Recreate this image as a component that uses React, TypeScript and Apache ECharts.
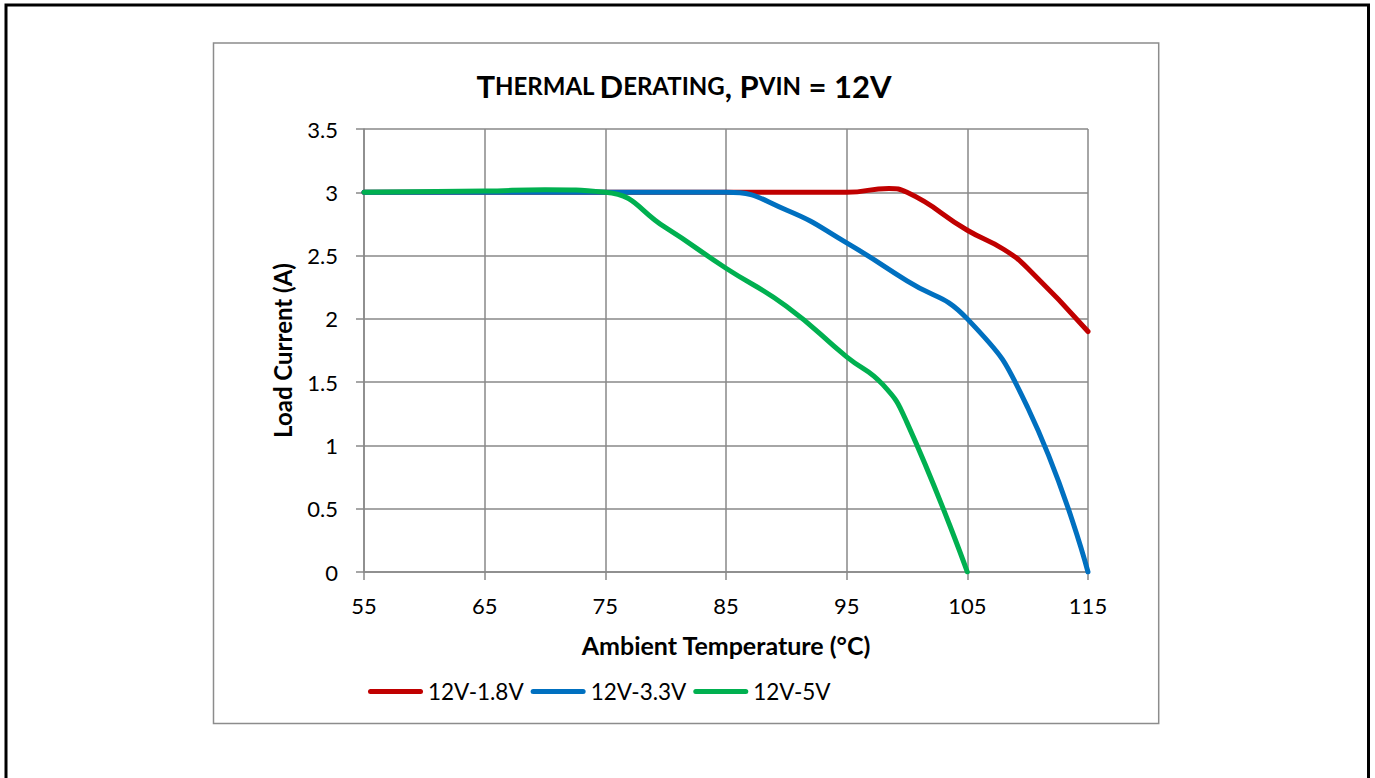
import React, { useEffect, useRef } from "react";
import * as echarts from "echarts";

const seriesNames = ["12V-1.8V", "12V-3.3V", "12V-5V"];
const seriesColors = ["#C00000", "#0070C0", "#00B050"];

const temps18 = [55, 65, 75, 85, 95, 98.5, 100, 105, 108, 110, 115];
const load18 = [3, 3, 3, 3, 3, 3.03, 3.0, 2.7, 2.55, 2.4, 1.9];

const temps33 = [55, 65, 75, 85, 90, 95, 100, 105, 110, 115];
const load33 = [3, 3, 3, 3, 2.86, 2.6, 2.3, 2.0, 1.3, 0];

const temps50 = [55, 65, 70, 75, 80, 85, 90, 95, 98, 100, 105];
const load50 = [3, 3.01, 3.02, 3, 2.72, 2.4, 2.1, 1.7, 1.48, 1.18, 0];

const xTicks = { min: 55, max: 115, step: 10 };
const yTicks = { min: 0, max: 3.5, step: 0.5 };

const FONT = "Lato, 'Open Sans', 'DejaVu Sans', sans-serif";
const GRID_COLOR = "#898989";

function pairs(xs: number[], ys: number[]) {
  return xs.map((x, i) => [x, ys[i]]);
}

export default function App() {
  const ref = useRef<HTMLDivElement>(null);

  useEffect(() => {
    document.body.style.margin = "0";
    if (!ref.current) return;
    const chart = echarts.init(ref.current, null, { renderer: "svg" });
    const dataSets = [
      pairs(temps18, load18),
      pairs(temps33, load33),
      pairs(temps50, load50),
    ];
    const legendIcon =
      "path://M2.5,0 H52.5 A2.5,2.5 0 0 1 52.5,5 H2.5 A2.5,2.5 0 0 1 2.5,0 Z";

    chart.setOption({
      animation: false,
      backgroundColor: "#ffffff",
      title: {
        left: 684,
        textAlign: "center",
        top: 70,
        padding: 0,
        text: "{b|T}{s|HERMAL} {b|D}{s|ERATING}{b|, P}{s|VIN}{b| = 12V}",
        textStyle: {
          rich: {
            b: { fontFamily: FONT, fontWeight: "bold", fontSize: 31, color: "#000" },
            s: { fontFamily: FONT, fontWeight: "bold", fontSize: 24, color: "#000" },
          },
        },
      },
      grid: { left: 364, top: 129, width: 724, height: 443, containLabel: false },
      legend: {
        left: 368,
        top: 680,
        padding: 0,
        itemWidth: 55,
        itemHeight: 5,
        itemGap: 7,
        icon: legendIcon,
        textStyle: { fontFamily: FONT, fontSize: 22.5, color: "#000" },
        data: seriesNames,
      },
      graphic: [
        {
          type: "rect",
          silent: true,
          z: -10,
          shape: { x: 6, y: 5, width: 1362.5, height: 820 },
          style: { fill: "none", stroke: "#000", lineWidth: 3 },
        },
        {
          type: "rect",
          silent: true,
          z: -10,
          shape: { x: 213.5, y: 43, width: 945.2, height: 680.5 },
          style: { fill: "none", stroke: "#8c8c8c", lineWidth: 1.5 },
        },
      ],
      xAxis: {
        type: "value",
        min: xTicks.min,
        max: xTicks.max,
        interval: xTicks.step,
        name: "Ambient Temperature (°C)",
        nameLocation: "middle",
        nameGap: 60,
        nameTextStyle: { fontFamily: FONT, fontWeight: "bold", fontSize: 25, color: "#000" },
        axisLine: { show: true, lineStyle: { color: GRID_COLOR, width: 1.5 } },
        axisTick: { show: true, length: 8, lineStyle: { color: GRID_COLOR, width: 1.5 } },
        axisLabel: { margin: 22, fontFamily: FONT, fontSize: 22, color: "#000" },
        splitLine: { show: true, lineStyle: { color: GRID_COLOR, width: 1.5 } },
      },
      yAxis: {
        type: "value",
        min: yTicks.min,
        max: yTicks.max,
        interval: yTicks.step,
        name: "Load Current (A)",
        nameLocation: "middle",
        nameGap: 70,
        nameTextStyle: { fontFamily: FONT, fontWeight: "bold", fontSize: 24, color: "#000" },
        axisLine: { show: true, lineStyle: { color: GRID_COLOR, width: 1.5 } },
        axisTick: { show: true, length: 8, lineStyle: { color: GRID_COLOR, width: 1.5 } },
        axisLabel: { margin: 26, fontFamily: FONT, fontSize: 22, color: "#000" },
        splitLine: { show: true, lineStyle: { color: GRID_COLOR, width: 1.5 } },
      },
      series: dataSets.map((d, i) => ({
        name: seriesNames[i],
        type: "line",
        data: d,
        smooth: 0.5,
        symbol: "none",
        color: seriesColors[i],
        lineStyle: { width: 5, color: seriesColors[i], cap: "round", join: "round" },
        z: 2 + i,
      })),
    });
    return () => chart.dispose();
  }, []);

  return <div ref={ref} style={{ width: 1375, height: 778 }} />;
}
